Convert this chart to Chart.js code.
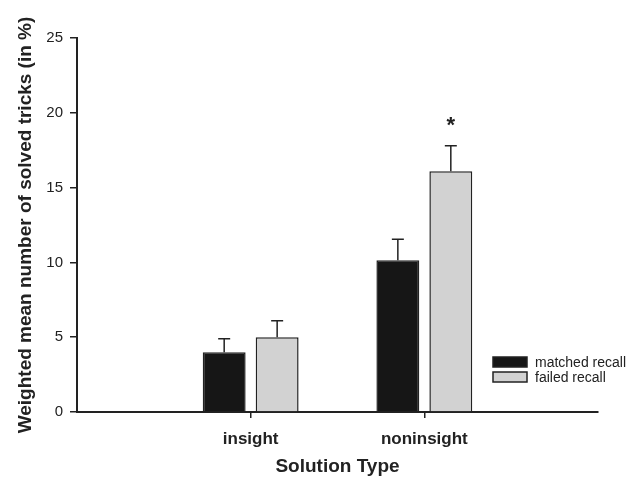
<!DOCTYPE html>
<html>
<head>
<meta charset="utf-8">
<script src="https://cdn.jsdelivr.net/npm/chart.js@4"></script>
<style>
  html, body { margin: 0; padding: 0; background: #fff; }
  #wrap { width: 640px; height: 480px; }
</style>
</head>
<body>
<div id="wrap"><canvas id="chart" width="640" height="480"></canvas></div>
<script>
// --- data ---
const categories = ['insight', 'noninsight'];
const matchedValues = [4.0, 10.15];
const matchedErrors = [0.9, 1.4];
const failedValues = [5.0, 16.1];
const failedErrors = [1.1, 1.7];
const failedMarks = ['', '*'];
const yTicks = [0, 5, 10, 15, 20, 25];

const FONT = "'Liberation Sans', Arial, Helvetica, sans-serif";
const INK = '#222';

// empty slots at both ends so the categories sit at 1/3 and 2/3 of the axis
const pad = arr => [null, ...arr, null];
const labels = ['', ...categories, ''];

// --- error bars + significance marks ---
const errorBars = {
    id: 'errorBars',
    afterDatasetsDraw(chart) {
        const ctx = chart.ctx;
        const y = chart.scales.y;
        chart.data.datasets.forEach((ds, di) => {
            const meta = chart.getDatasetMeta(di);
            meta.data.forEach((bar, i) => {
                const v = ds.data[i];
                if (v == null) return;
                const top = y.getPixelForValue(v + ds.errors[i]);
                ctx.save();
                ctx.strokeStyle = INK;
                ctx.lineWidth = 1.5;
                ctx.beginPath();
                ctx.moveTo(bar.x, bar.y);
                ctx.lineTo(bar.x, top);
                ctx.moveTo(bar.x - 6, top);
                ctx.lineTo(bar.x + 6, top);
                ctx.stroke();
                if (ds.marks && ds.marks[i]) {
                    ctx.fillStyle = INK;
                    ctx.font = 'bold 22px ' + FONT;
                    ctx.textAlign = 'center';
                    ctx.textBaseline = 'alphabetic';
                    ctx.fillText(ds.marks[i], bar.x, top - 14);
                }
                ctx.restore();
            });
        });
    }
};

// --- legend drawn inside the plot, bottom right ---
const innerLegend = {
    id: 'innerLegend',
    afterDraw(chart) {
        const ctx = chart.ctx;
        const area = chart.chartArea;
        const x0 = area.right - 105;
        let y0 = area.bottom - 55;
        ctx.save();
        ctx.font = '14px ' + FONT;
        ctx.textBaseline = 'middle';
        ctx.textAlign = 'left';
        chart.data.datasets.forEach(ds => {
            ctx.fillStyle = ds.backgroundColor;
            ctx.fillRect(x0, y0, 34, 10);
            ctx.strokeStyle = INK;
            ctx.lineWidth = 1.5;
            ctx.strokeRect(x0, y0, 34, 10);
            ctx.fillStyle = INK;
            ctx.fillText(ds.label, x0 + 42, y0 + 6);
            y0 += 15;
        });
        ctx.restore();
    }
};

new Chart(document.getElementById('chart'), {
    type: 'bar',
    data: {
        labels: labels,
        datasets: [{
            label: 'matched recall',
            data: pad(matchedValues),
            errors: pad(matchedErrors),
            backgroundColor: '#161616',
            borderColor: INK,
            borderWidth: 1.5,
            categoryPercentage: 0.61,
            barPercentage: 0.81
        }, {
            label: 'failed recall',
            data: pad(failedValues),
            errors: pad(failedErrors),
            marks: pad(failedMarks),
            backgroundColor: '#d2d2d2',
            borderColor: INK,
            borderWidth: 1.5,
            categoryPercentage: 0.61,
            barPercentage: 0.81
        }]
    },
    options: {
        responsive: false,
        animation: false,
        layout: { padding: { left: 0, top: 38, right: 42, bottom: 0 } },
        plugins: {
            legend: { display: false },
            tooltip: { enabled: false }
        },
        scales: {
            x: {
                offset: false,
                afterFit: s => { s.height = 68; },
                border: { color: INK, width: 2 },
                grid: {
                    offset: false,
                    drawOnChartArea: false,
                    tickLength: 6,
                    lineWidth: 1.5,
                    tickColor: c => (c.index > 0 && c.index < labels.length - 1) ? INK : 'rgba(0,0,0,0)'
                },
                ticks: {
                    color: INK,
                    padding: 11,
                    maxRotation: 0,
                    autoSkip: false,
                    font: { family: FONT, size: 17, weight: 'bold' }
                },
                title: {
                    display: true,
                    text: 'Solution Type',
                    color: INK,
                    padding: { top: 0, bottom: 2 },
                    font: { family: FONT, size: 19, weight: 'bold' }
                }
            },
            y: {
                min: 0,
                max: 25,
                afterFit: s => { s.width = 77; },
                afterBuildTicks: s => { s.ticks = yTicks.map(v => ({ value: v })); },
                border: { color: INK, width: 2 },
                grid: {
                    drawOnChartArea: false,
                    tickLength: 7,
                    lineWidth: 1.5,
                    tickColor: INK
                },
                ticks: {
                    color: INK,
                    padding: 7,
                    font: { family: FONT, size: 15 }
                },
                title: {
                    display: true,
                    text: 'Weighted mean number of solved tricks (in %)',
                    color: INK,
                    padding: { top: 14, bottom: 0 },
                    font: { family: FONT, size: 19, weight: 'bold' }
                }
            }
        }
    },
    plugins: [errorBars, innerLegend]
});
</script>
</body>
</html>
